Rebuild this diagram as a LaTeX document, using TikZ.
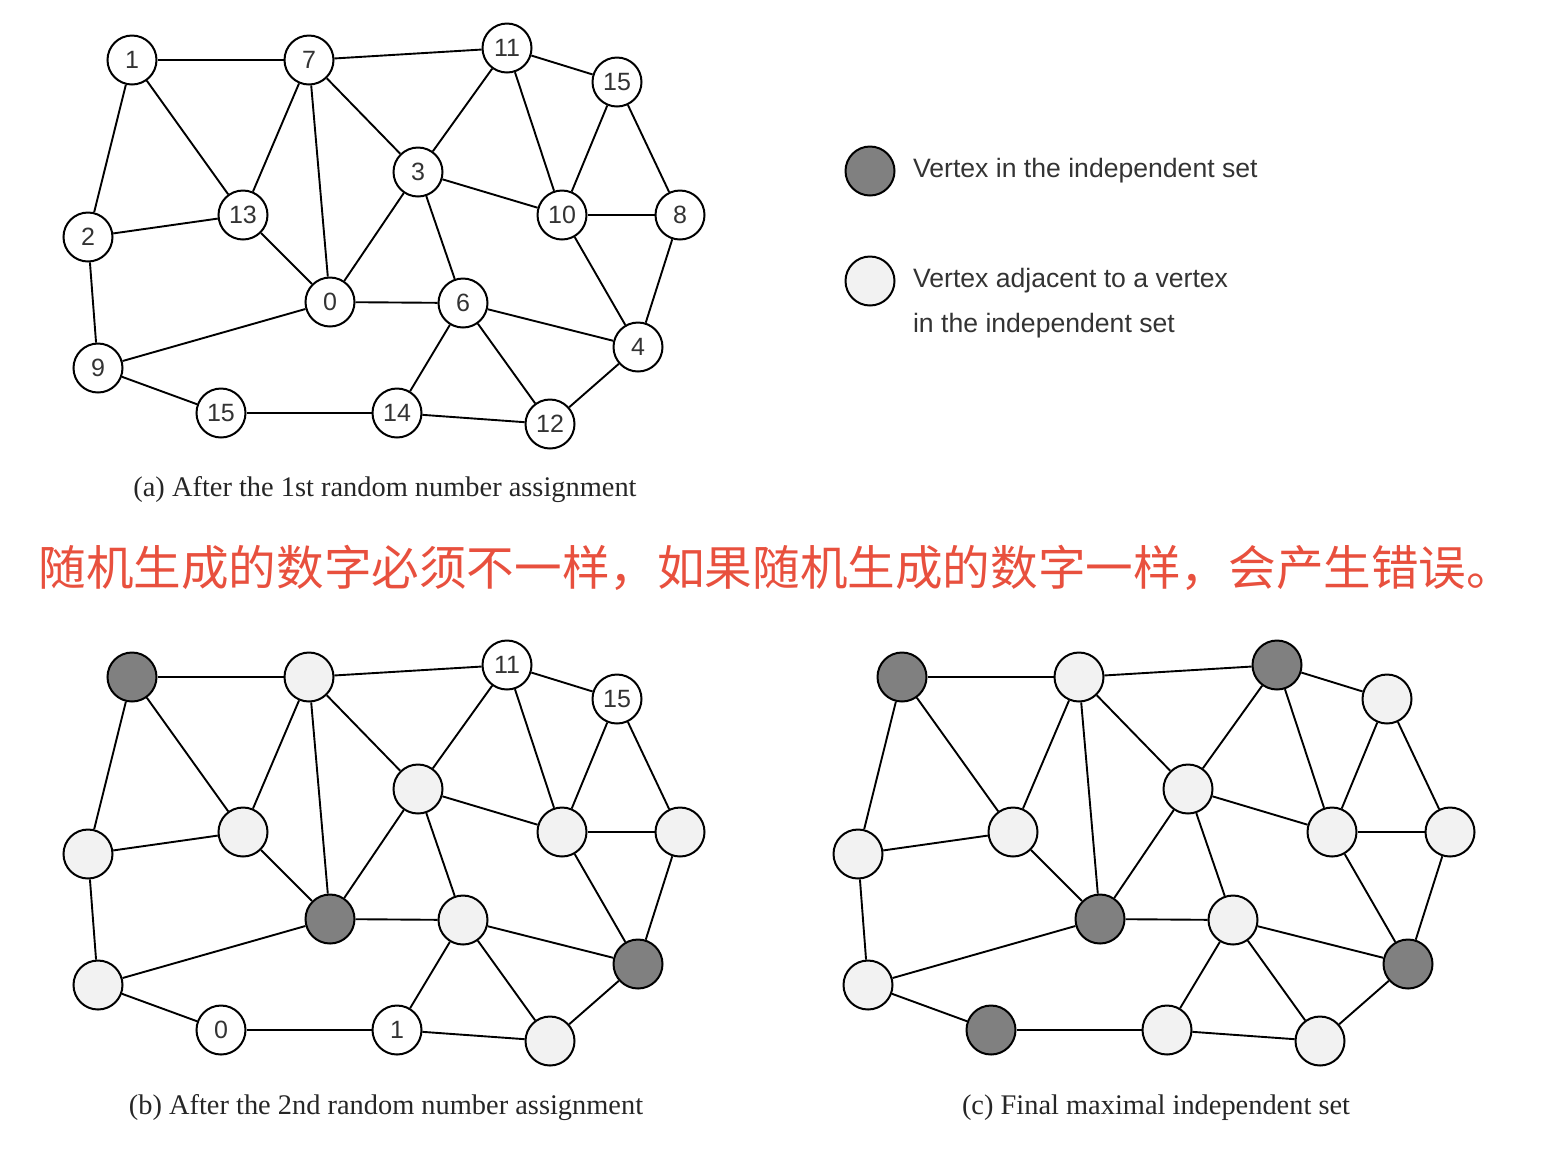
\documentclass[tikz,border=0pt]{standalone}
\usepackage{xcolor}
\usepackage{fontspec}
\usepackage{tikz}
\setmainfont{Liberation Serif}
\newfontfamily\numfont{Liberation Sans}
\newfontfamily\cjkfont{Noto Sans CJK SC}
\definecolor{setgray}{RGB}{128,128,128}
\definecolor{adjgray}{RGB}{242,242,242}
\definecolor{notered}{RGB}{232,80,62}
\tikzset{
  vnum/.style={circle,draw,line width=1pt,fill=white,minimum size=24.5pt,inner sep=0pt,
    font=\numfont\fontsize{12.5}{14}\selectfont,text=black!80},
  vin/.style={vnum,fill=setgray},
  vadj/.style={vnum,fill=adjgray},
  link/.style={line width=0.95pt},
  caption/.style={font=\fontsize{14.2}{16}\selectfont,text=black!85},
  legendtext/.style={anchor=west,font=\numfont\fontsize{13.3}{15}\selectfont,text=black!80}
}

\begin{document}
\begin{tikzpicture}[x=0.5pt,y=0.5pt,yscale=-1,xscale=1]
        \useasboundingbox (0,0) rectangle (1558,1164);
        % (a) after the 1st assignment
        \node[vnum] (a1) at (132,60) {1};
        \node[vnum] (a7) at (309,60) {7};
        \node[vnum] (a11) at (507,48) {11};
        \node[vnum] (a15t) at (617,82) {15};
        \node[vnum] (a3) at (418,172) {3};
        \node[vnum] (a13) at (243,215) {13};
        \node[vnum] (a2) at (88,237) {2};
        \node[vnum] (a10) at (562,215) {10};
        \node[vnum] (a8) at (680,215) {8};
        \node[vnum] (a0) at (330,302) {0};
        \node[vnum] (a6) at (463,303) {6};
        \node[vnum] (a4) at (638,347) {4};
        \node[vnum] (a9) at (98,368) {9};
        \node[vnum] (a15b) at (221,413) {15};
        \node[vnum] (a14) at (397,413) {14};
        \node[vnum] (a12) at (550,424) {12};
        \foreach \s/\t in {1/7,1/2,1/13,7/11,7/13,7/0,7/3,11/15t,11/3,11/10,15t/10,15t/8,3/10,3/0,3/6,
            13/2,13/0,10/8,10/4,8/4,0/6,0/9,6/4,6/14,6/12,4/12,2/9,9/15b,15b/14,14/12}
          \draw[link] (a\s) -- (a\t);
        \node[caption] (capa) at (385,490) {(a) After the 1st random number assignment};

        % legend
        \node[vin] (keyin) at (870,171) {};
        \node[legendtext] (keyintext) at (906,171) {Vertex in the independent set};
        \node[vadj] (keyadj) at (870,281) {};
        \node[legendtext] (keyadjtext) at (906,281) {Vertex adjacent to a vertex};
        \node[legendtext] (keyadjtext2) at (906,326) {in the independent set};

        % note
        \node[anchor=west,inner sep=0pt,text=notered,font=\cjkfont\fontsize{23.8}{26}\selectfont] (note) at (38,568)
          {随机生成的数字必须不一样，如果随机生成的数字一样，会产生错误。};

        % (b) after the 2nd assignment
        \node[vin] (b1) at (132,677) {};
        \node[vadj] (b7) at (309,677) {};
        \node[vnum] (b11) at (507,665) {11};
        \node[vnum] (b15t) at (617,699) {15};
        \node[vadj] (b3) at (418,789) {};
        \node[vadj] (b13) at (243,832) {};
        \node[vadj] (b2) at (88,854) {};
        \node[vadj] (b10) at (562,832) {};
        \node[vadj] (b8) at (680,832) {};
        \node[vin] (b0) at (330,919) {};
        \node[vadj] (b6) at (463,920) {};
        \node[vin] (b4) at (638,964) {};
        \node[vadj] (b9) at (98,985) {};
        \node[vnum] (b15b) at (221,1030) {0};
        \node[vnum] (b14) at (397,1030) {1};
        \node[vadj] (b12) at (550,1041) {};
        \foreach \s/\t in {1/7,1/2,1/13,7/11,7/13,7/0,7/3,11/15t,11/3,11/10,15t/10,15t/8,3/10,3/0,3/6,
            13/2,13/0,10/8,10/4,8/4,0/6,0/9,6/4,6/14,6/12,4/12,2/9,9/15b,15b/14,14/12}
          \draw[link] (b\s) -- (b\t);
        \node[caption] (capb) at (386,1108) {(b) After the 2nd random number assignment};

        % (c) final set
        \node[vin] (c1) at (902,677) {};
        \node[vadj] (c7) at (1079,677) {};
        \node[vin] (c11) at (1277,665) {};
        \node[vadj] (c15t) at (1387,699) {};
        \node[vadj] (c3) at (1188,789) {};
        \node[vadj] (c13) at (1013,832) {};
        \node[vadj] (c2) at (858,854) {};
        \node[vadj] (c10) at (1332,832) {};
        \node[vadj] (c8) at (1450,832) {};
        \node[vin] (c0) at (1100,919) {};
        \node[vadj] (c6) at (1233,920) {};
        \node[vin] (c4) at (1408,964) {};
        \node[vadj] (c9) at (868,985) {};
        \node[vin] (c15b) at (991,1030) {};
        \node[vadj] (c14) at (1167,1030) {};
        \node[vadj] (c12) at (1320,1041) {};
        \foreach \s/\t in {1/7,1/2,1/13,7/11,7/13,7/0,7/3,11/15t,11/3,11/10,15t/10,15t/8,3/10,3/0,3/6,
            13/2,13/0,10/8,10/4,8/4,0/6,0/9,6/4,6/14,6/12,4/12,2/9,9/15b,15b/14,14/12}
          \draw[link] (c\s) -- (c\t);
        \node[caption] (capc) at (1156,1108) {(c) Final maximal independent set};
\end{tikzpicture}
\end{document}
